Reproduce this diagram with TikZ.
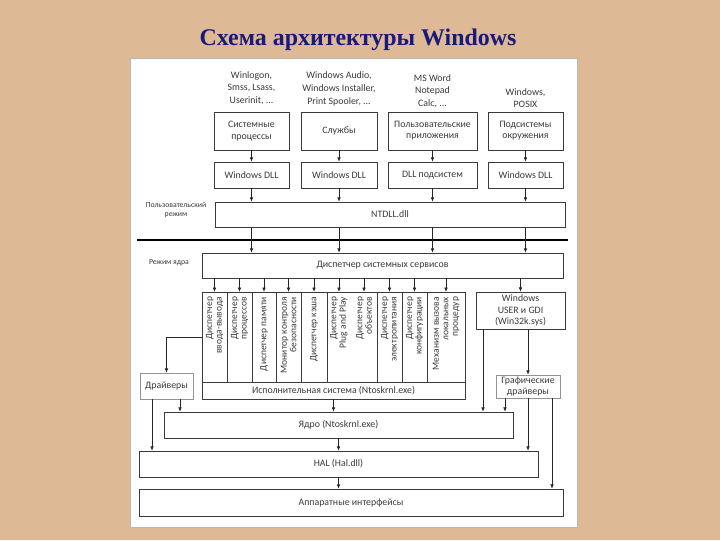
\documentclass[tikz,border=0pt]{standalone}
\usepackage{fontspec}
\setmainfont{Liberation Serif}
\newfontfamily\boxfont{Carlito}
\usetikzlibrary{arrows.meta,calc}
\definecolor{woodtan}{HTML}{DDB995}
\definecolor{titlenavy}{HTML}{1A1A7A}
\definecolor{boxink}{HTML}{3A3A3A}
\definecolor{panelgray}{HTML}{B8B8B8}

\begin{document}
\begin{tikzpicture}[x=.05cm,y=-.05cm,
    sz/.style 2 args={minimum width=#1*.05cm,minimum height=#2*.05cm},
    blk/.style={draw=boxink,line width=.9pt,fill=white,text=boxink,inner sep=1pt,
      font=\boxfont\fontsize{14}{16}\selectfont,align=center},
    drvbox/.style={blk,draw=boxink!55},
    cell/.style={inner sep=0pt,minimum height=90*.05cm},
    vtxt/.style={rotate=90,anchor=east,align=right,inner sep=0pt,text=boxink,
      font=\boxfont\fontsize{13.5}{13.5}\selectfont},
    toplbl/.style={anchor=south,align=center,text=boxink,inner sep=0pt,
      font=\boxfont\fontsize{14}{18}\selectfont},
    modelbl/.style={align=center,text=boxink,inner sep=0pt,
      font=\boxfont\fontsize{11}{12}\selectfont},
    arr/.style={draw=black!85,line width=.9pt,-{Latex[length=6pt,width=5pt]}}]
    \useasboundingbox (0,0) rectangle (720,540);
    \fill[woodtan] (0,0) rectangle (720,540);
    \draw[panelgray,fill=white] (130,58) rectangle (577,527);
    \node[text=titlenavy,font=\fontsize{34}{38}\selectfont\bfseries] (title)
      at (358,40) {Схема архитектуры Windows};
    % user mode
    \node[toplbl] (lbl1) at (251.5,105) {Winlogon,\\Smss, Lsass,\\Userinit, ...};
    \node[toplbl] (lbl2) at (339,106) {Windows Audio,\\Windows Installer,\\Print Spooler, ...};
    \node[toplbl] (lbl3) at (432.5,108) {MS Word\\Notepad\\Calc, ...};
    \node[toplbl] (lbl4) at (525.5,108) {Windows,\\POSIX};
    \node[blk,sz={75}{38}] (sys) at (251.5,131) {Системные\\процессы};
    \node[blk,sz={76}{38}] (svc) at (339,131) {Службы};
    \node[blk,sz={89}{38}] (app) at (432.5,131) {Пользовательские\\приложения};
    \node[blk,sz={75}{38}] (env) at (525.5,131) {Подсистемы\\окружения};
    \node[blk,sz={75}{26}] (dll1) at (251.5,175) {Windows DLL};
    \node[blk,sz={76}{26}] (dll2) at (339,175) {Windows DLL};
    \node[blk,sz={89}{26}] (dll3) at (432.5,175) {DLL подсистем};
    \node[blk,sz={75}{26}] (dll4) at (525.5,175) {Windows DLL};
    \node[blk,sz={350}{25}] (ntdll) at (390,214.5) {NTDLL.dll};
    \node[modelbl] (umode) at (176,210) {Пользовательский\\режим};
    \coordinate (sepL) at (137,240);
    \coordinate (sepR) at (568,240);
    \draw[line width=4pt] (sepL) -- (sepR);
    % kernel mode
    \node[modelbl] (kmode) at (169,263) {Режим ядра};
    \node[blk,sz={361}{25}] (ssd) at (382.5,265.5) {Диспетчер системных сервисов};
    \foreach \c/\x/\w/\t in {io/214.5/25/{Диспетчер\\ввода-вывода},
      prc/239.5/25/{Диспетчер\\процессов},mem/264/24/{Диспетчер памяти},
      sec/288.5/25/{Монитор контроля\\безопасности},cch/314/26/{Диспетчер кэша},
      pnp/339/24/{Диспетчер\\Plug and Play},obj/364/26/{Диспетчер\\объектов},
      pwr/389.5/25/{Диспетчер\\электропитания},cfg/414.5/25/{Диспетчер\\конфигурации},
      lpc/446/38/{Механизм вызова\\локальных\\процедур}}{
      \node[cell,minimum width=\w*.05cm] (\c) at (\x,337) {};
      \node[vtxt] (t\c) at ($(\c.north)+(0,5)$) {\t};
    }
    \draw[boxink,line width=.9pt] (io.north west) rectangle (lpc.south east);
    \foreach \c in {io,prc,mem,sec,cch,obj,pwr,cfg}
      \draw[boxink,line width=.9pt] (\c.north east) -- (\c.south east);
    \node[blk,sz={263}{17}] (exe) at (333.5,390.5) {Исполнительная система (Ntoskrnl.exe)};
    \node[blk,sz={89}{37}] (usr) at (520.5,310.5) {Windows\\USER и GDI\\(Win32k.sys)};
    \node[drvbox,sz={53}{26}] (drv) at (166.5,386) {Драйверы};
    \node[drvbox,sz={64}{23}] (gdrv) at (528,386.5) {Графические\\драйверы};
    \node[blk,sz={349}{26}] (krn) at (338.5,425) {Ядро (Ntoskrnl.exe)};
    \node[blk,sz={399}{26}] (hal) at (338.5,464) {HAL (Hal.dll)};
    \node[blk,sz={424}{27}] (hw) at (351,502.5) {Аппаратные интерфейсы};
    \coordinate (drvA) at ($(drv.south)+(-14.5,0)$);
    \coordinate (drvB) at ($(drv.south)+(13.5,0)$);
    \coordinate (usrA) at ($(usr.south)+(-37.5,0)$);
    \coordinate (gdrA) at ($(gdrv.south)+(-23,0)$);
    \coordinate (gdrB) at ($(gdrv.south)+(24,0)$);
    % connectors
    \foreach \a/\b in {sys/dll1,svc/dll2,app/dll3,env/dll4}{
      \draw[arr] (\a) -- (\b);
      \draw[arr] (\b) -- (ntdll.north -| \b);
      \draw[arr] (ntdll.south -| \b) -- (ssd.north -| \b);
    }
    \foreach \c in {io,prc,mem,sec,cch,pnp,obj,pwr,cfg,lpc,usr}
      \draw[arr] (ssd.south -| \c) -- (\c.north);
    \draw[arr] (io.west) -| (drv.north);
    \draw[arr] (drvA) -- (drvA |- hal.north);
    \draw[arr] (drvB) -- (drvB |- krn.north);
    \draw[arr] (exe.south) -- (exe.south |- krn.north);
    \draw[arr] (usrA) -- (usrA |- krn.north);
    \draw[arr] (usr.south -| gdrv) -- (gdrv.north);
    \draw[arr] (gdrA) -- (gdrA |- krn.north);
    \draw[arr] (gdrv.south) -- (gdrv.south |- hal.north);
    \draw[arr] (gdrB) -- (gdrB |- hw.north);
    \draw[arr] (krn) -- (hal);
    \draw[arr] (hal.south) -- (hal.south |- hw.north);
  \end{tikzpicture}
\end{document}
